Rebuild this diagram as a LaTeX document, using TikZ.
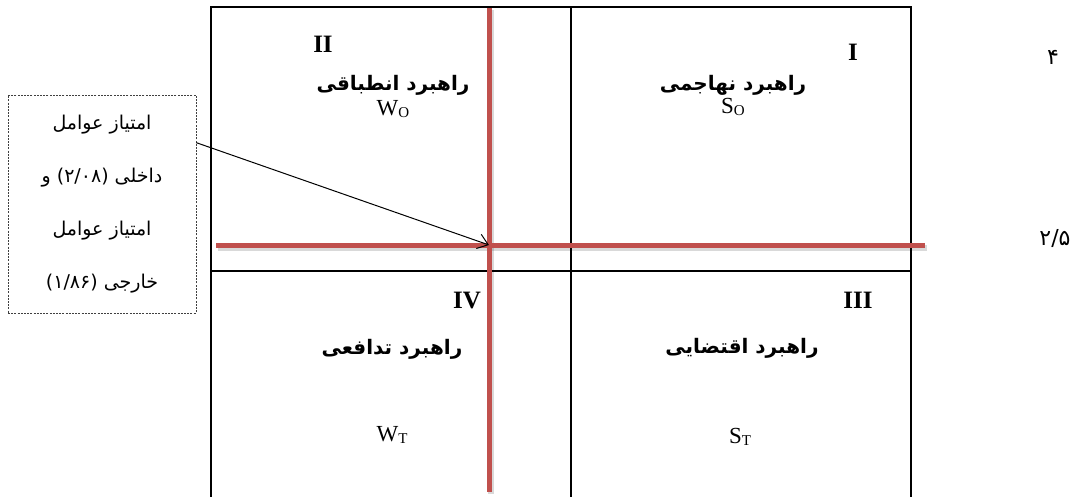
\documentclass[tikz,border=0pt]{standalone}
\usepackage{fontspec}
\setmainfont{Liberation Serif}
\newfontfamily\fafont[Script=Arabic]{DejaVu Sans}
\TeXXeTstate=1
\usetikzlibrary{positioning,arrows.meta}
\definecolor{axisred}{HTML}{C0504D}
\tikzset{
  gridline/.style={line width=1.6pt, black},
  axisline/.style={line width=5pt, axisred},
  axisshadow/.style={line width=6pt, black, opacity=0.15},
  pointer/.style={-{Straight Barb[length=10pt, width=15pt]}, line width=1pt, black},
  notebox/.style={draw=black!75, dash pattern=on 2pt off 1.2pt, line width=0.8pt, minimum width=188pt, minimum height=218pt, align=center, font=\fafont\fontsize{19}{53}\selectfont},
  quadnum/.style={font=\bfseries\fontsize{25}{25}\selectfont},
  quadname/.style={font=\fafont\bfseries\fontsize{20}{20}\selectfont},
  quadcode/.style={font=\fontsize{23}{23}\selectfont},
  sidenum/.style={font=\fafont\fontsize{22}{22}\selectfont}
}

\begin{document}
\begin{tikzpicture}[x=1pt, y=-1pt]
  \useasboundingbox (0,0) rectangle (1077,496);
  % matrix grid
  \coordinate (tl) at (211,7);
  \coordinate (br) at (911,520);
  \draw[gridline] (tl) rectangle (br);
  \draw[gridline] (571,7) -- (571,520);
  \draw[gridline] (211,271) -- (911,271);

  % axes through the score point
  \draw[axisshadow] (218,248) -- (927,248);
  \draw[axisshadow] (491,10) -- (491,494);
  \draw[axisline] (216,245) -- (925,245);
  \draw[axisline] (489,8) -- (489,492);
  \coordinate (cross) at (489,245);

  % quadrant labels
  \node[quadnum] (q1) at (853,52) {I};
  \node[quadname] (q1name) at (733,85) {\beginR راهبرد نهاجمی\endR};
  \node[quadcode] (q1code) at (733,107) {S\raisebox{-1.5pt}{\fontsize{15}{15}\selectfont O}};

  \node[quadnum] (q2) at (323,44) {II};
  \node[quadname] (q2name) at (393,85) {\beginR راهبرد انطباقی\endR};
  \node[quadcode] (q2code) at (393,109) {W\raisebox{-1.5pt}{\fontsize{15}{15}\selectfont O}};

  \node[quadnum] (q4) at (467,300) {IV};
  \node[quadname] (q4name) at (392,349) {\beginR راهبرد تدافعی\endR};
  \node[quadcode] (q4code) at (392,435) {W\raisebox{-1.5pt}{\fontsize{15}{15}\selectfont T}};

  \node[quadnum] (q3) at (858,300) {III};
  \node[quadname] (q3name) at (742,348) {\beginR راهبرد اقتضایی\endR};
  \node[quadcode] (q3code) at (740,437) {S\raisebox{-1.5pt}{\fontsize{15}{15}\selectfont T}};

  % scale values on the right
  \node[sidenum] (top) at (1053,57) {۴};
  \node[sidenum] (mid) at (1055,238) {۲/۵};

  % score note
  \node[notebox] (note) at (102,204) {\beginR امتیاز عوامل\endR\\
    \beginR داخلی \beginL(۲/۰۸)\endL{} و\endR\\
    \beginR امتیاز عوامل\endR\\
    \beginR خارجی \beginL(۱/۸۶)\endL\endR};
  \draw[pointer] (note.33) -- (cross);
\end{tikzpicture}
\end{document}
